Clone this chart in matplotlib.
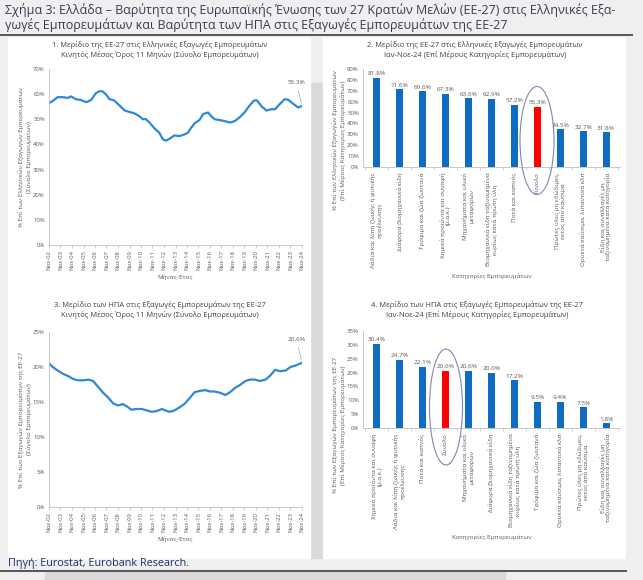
import pandas as pd
import matplotlib
matplotlib.use("Agg")
import matplotlib.pyplot as plt
from matplotlib.patches import Rectangle, Ellipse
from matplotlib.lines import Line2D

plt.rcParams['font.family'] = ['Open Sans', 'DejaVu Sans']

W, H = 643, 580

# =======================
# DATA
# =======================
eu_dates = ["2002-11", "2003-03", "2003-08", "2004-01", "2004-07", "2004-10", "2005-03",
            "2005-08", "2006-02", "2006-07", "2006-12", "2007-04", "2007-07", "2007-11",
            "2008-02", "2008-07", "2008-12", "2009-06", "2009-11", "2010-04", "2010-09",
            "2011-01", "2011-04", "2011-08", "2012-01", "2012-06", "2012-10", "2013-01",
            "2013-05", "2013-10", "2014-03", "2014-08", "2014-12", "2015-03", "2015-07",
            "2015-12", "2016-04", "2016-09", "2016-12", "2017-04", "2017-09", "2018-02",
            "2018-08", "2019-01", "2019-06", "2019-11", "2020-04", "2020-09", "2020-12",
            "2021-05", "2021-10", "2022-03", "2022-07", "2022-12", "2023-05", "2023-09",
            "2024-02", "2024-07", "2024-11"]
eu_share = [56.4, 57.3, 58.8, 58.8, 58.5, 59.1, 58.0,
            57.7, 56.8, 57.7, 60.4, 61.2, 61.1, 59.7,
            58.0, 57.5, 55.7, 53.5, 52.9, 52.4, 51.3,
            50.0, 50.1, 48.7, 46.4, 44.7, 42.0, 41.5,
            42.3, 43.6, 43.3, 43.9, 44.7, 46.4, 48.4,
            49.7, 52.1, 52.7, 51.3, 50.0, 49.7, 49.3,
            48.7, 49.3, 50.8, 52.7, 55.3, 57.5, 57.5,
            55.1, 53.5, 54.0, 54.0, 56.1, 58.0, 57.7,
            56.1, 54.7, 55.3]

us_dates = ["2002-11", "2003-03", "2003-08", "2004-02", "2004-07", "2004-12", "2005-05",
            "2005-11", "2006-04", "2006-09", "2007-02", "2007-07", "2008-01", "2008-06",
            "2008-11", "2009-04", "2009-08", "2010-01", "2010-06", "2010-12", "2011-05",
            "2011-10", "2012-03", "2012-09", "2012-12", "2013-05", "2013-10", "2014-04",
            "2014-09", "2015-02", "2015-07", "2016-01", "2016-06", "2016-11", "2017-04",
            "2017-10", "2018-03", "2018-08", "2019-01", "2019-06", "2019-12", "2020-05",
            "2020-10", "2021-03", "2021-09", "2022-02", "2022-07", "2022-12", "2023-06",
            "2023-11", "2024-04", "2024-11"]
us_share = [20.5, 20.0, 19.5, 19.0, 18.7, 18.3, 18.1,
            18.1, 18.2, 18.0, 17.2, 16.4, 15.6, 14.8,
            14.5, 14.7, 14.4, 13.9, 14.0, 14.0, 13.8,
            13.6, 13.7, 14.0, 13.8, 13.6, 13.8, 14.3,
            14.8, 15.6, 16.4, 16.6, 16.7, 16.5, 16.5,
            16.3, 16.0, 16.4, 17.0, 17.4, 18.0, 18.2,
            18.2, 18.0, 18.2, 18.8, 19.6, 19.4, 19.5,
            20.0, 20.2, 20.6]

eu_cats = ["Λάδια και λίπη ζωικής ή φυτικής\nπροέλευσης",
           "Διάφορα βιομηχανικά είδη",
           "Τρόφιμα και ζώα ζωντανά",
           "Χημικά προϊόντα και συναφή\n(μ.α.κ.)",
           "Μηχανήματα και υλικό\nμεταφορών",
           "Βιομηχανικά είδη ταξινομημένα\nκυρίως κατά πρώτη ύλη",
           "Ποτά και καπνός",
           "Σύνολο",
           "Πρώτες ύλες μη εδώδιμες,\nεκτός από καύσιμα",
           "Ορυκτά καύσιμα, λιπαντικά κλπ",
           "Είδη και συναλλαγές μη\nταξινομημένα κατά κατηγορία"]
eu_vals = [81.8, 71.6, 69.6, 67.3, 63.0, 62.9, 57.2, 55.3, 34.5, 32.7, 31.8]

us_cats = ["Χημικά προϊόντα και συναφή\n(μ.α.κ.)",
           "Λάδια και λίπη ζωικής ή φυτικής\nπροέλευσης",
           "Ποτά και καπνός",
           "Σύνολο",
           "Μηχανήματα και υλικό\nμεταφορών",
           "Διάφορα βιομηχανικά είδη",
           "Βιομηχανικά είδη ταξινομημένα\nκυρίως κατά πρώτη ύλη",
           "Τρόφιμα και ζώα ζωντανά",
           "Ορυκτά καύσιμα, λιπαντικά κλπ",
           "Πρώτες ύλες μη εδώδιμες,\nεκτός από καύσιμα",
           "Είδη και συναλλαγές μη\nταξινομημένα κατά κατηγορία"]
us_vals = [30.4, 24.7, 22.1, 20.6, 20.6, 20.0, 17.2, 9.5, 9.4, 7.5, 1.8]

LINE_C = "#2f88d6"
BAR_C = "#0f6cc2"
RED = "#ff0000"
TXT = "#595959"
AX_C = "#bfbfbf"


def box(x0, y0, x1, y1):
    # pixel box (top-left origin) -> figure fraction
    return [x0 / W, 1 - y1 / H, (x1 - x0) / W, (y1 - y0) / H]


def fx(x):
    return x / W


def fy(y):
    return 1 - y / H


fig = plt.figure(figsize=(W / 100, H / 100), dpi=100)
fig.patch.set_facecolor("#efefef")

# background blocks
fig.patches.append(Rectangle((fx(310), fy(558)), fx(13), (558 - 83) / H,
                             transform=fig.transFigure, color="#d9d9d9", zorder=-2))
fig.patches.append(Rectangle((fx(45), 0), fx(460), (H - 572) / H,
                             transform=fig.transFigure, color="#d9d9d9", zorder=-2))
for x0, x1 in [(8, 310), (323, 625)]:
    fig.patches.append(Rectangle((fx(x0), fy(558)), fx(x1 - x0), (558 - 38) / H,
                                 transform=fig.transFigure, color="white", zorder=-1))
fig.lines.append(Line2D([0, fx(632)], [fy(35), fy(35)], transform=fig.transFigure,
                        color="#555555", lw=1.4))
fig.lines.append(Line2D([0, fx(626)], [fy(571), fy(571)], transform=fig.transFigure,
                        color="#555555", lw=1.4))

fig.text(fx(5), fy(10), "Σχήμα 3: Ελλάδα – Βαρύτητα της Ευρωπαϊκής Ένωσης των 27 Κρατών "
         "Μελών (ΕΕ-27) στις Ελληνικές Εξα-", fontsize=9.0, color="#3b3b55", va="center")
fig.text(fx(5), fy(25), "γωγές Εμπορευμάτων και Βαρύτητα των ΗΠΑ στις Εξαγωγές "
         "Εμπορευμάτων της ΕΕ-27", fontsize=9.0, color="#3b3b55", va="center")
fig.text(fx(8), fy(563), "Πηγή: Eurostat, Eurobank Research.", fontsize=7.8,
         color="#1f2f6b", va="center")


def style_axes(ax):
    ax.patch.set_alpha(0)
    for s in ["top", "right"]:
        ax.spines[s].set_visible(False)
    for s in ["left", "bottom"]:
        ax.spines[s].set_color(AX_C)
        ax.spines[s].set_linewidth(0.6)
    ax.tick_params(axis="y", length=0, labelsize=4.3, colors=TXT, pad=3)
    ax.tick_params(axis="x", length=2, width=0.5, color=AX_C, labelsize=4.3,
                   labelcolor=TXT, pad=1.5)


def line_panel(rect, dates, vals, ymax, ystep, title, ylab, tcenter, tys):
    ax = fig.add_axes(box(*rect))
    d = pd.to_datetime(dates)
    ax.plot(d, vals, color=LINE_C, lw=1.6, solid_joinstyle="round")
    ticks = pd.date_range("2002-11-01", "2024-11-01", freq="12MS")
    ax.set_xticks(ticks)
    ax.set_xticklabels([f"Νοε-{t:%y}" for t in ticks], rotation=90)
    ax.set_xlim(d[0], d[-1])
    ax.set_ylim(0, ymax)
    ax.set_yticks(range(0, ymax + 1, ystep))
    ax.set_yticklabels([f"{v}%" for v in range(0, ymax + 1, ystep)])
    style_axes(ax)
    ax.set_xlabel("Μήνας-Έτος", fontsize=4.5, color=TXT, labelpad=3)
    ax.set_ylabel(ylab, fontsize=4.5, color=TXT, labelpad=1)
    ax.annotate(f"{vals[-1]:.1f}%", xy=(d[-1], vals[-1]), xytext=(-4, 16),
                textcoords="offset points", fontsize=4.6, color=TXT, ha="center",
                arrowprops=dict(arrowstyle="-", color="#a6a6a6", lw=0.5))
    fig.text(fx(tcenter), fy(tys[0]), title[0], fontsize=5.4, color="#404040",
             ha="center", va="center")
    fig.text(fx(tcenter), fy(tys[1]), title[1], fontsize=5.4, color="#404040",
             ha="center", va="center")
    return ax


def bar_panel(rect, cats, vals, ymax, ystep, title, ylab, tcenter, tys, ylab_y, ell):
    ax = fig.add_axes(box(*rect))
    x = range(len(cats))
    colors = [RED if c == "Σύνολο" else BAR_C for c in cats]
    ax.bar(x, vals, width=0.32, color=colors)
    for i, v in zip(x, vals):
        ax.text(i, v + ymax * 0.015, f"{v:.1f}%", ha="center", va="bottom",
                fontsize=4.6, color=TXT)
    ax.set_xlim(-0.6, len(cats) - 0.4)
    ax.set_ylim(0, ymax)
    ax.set_yticks(range(0, ymax + 1, ystep))
    ax.set_yticklabels([f"{v}%" for v in range(0, ymax + 1, ystep)])
    ax.set_xticks(list(x))
    ax.set_xticklabels(cats, rotation=90, linespacing=1.05)
    ax.set_xticks([i - 0.5 for i in range(len(cats) + 1)], minor=True)
    style_axes(ax)
    ax.tick_params(axis="x", which="major", length=0, labelsize=4.5, pad=4)
    ax.tick_params(axis="x", which="minor", length=2, width=0.5, color=AX_C)
    ax.set_xlabel("Κατηγορίες Εμπορευμάτων", fontsize=4.5, color=TXT, labelpad=4)
    fig.text(fx(339), fy(ylab_y), ylab, fontsize=4.5, color=TXT, rotation=90,
             ha="center", va="center", multialignment="center")
    fig.text(fx(tcenter), fy(tys[0]), title[0], fontsize=5.4, color="#404040",
             ha="center", va="center")
    fig.text(fx(tcenter), fy(tys[1]), title[1], fontsize=5.4, color="#404040",
             ha="center", va="center")
    cx, cy, ew, eh = ell
    fig.patches.append(Ellipse((fx(cx), fy(cy)), ew / W, eh / H, transform=fig.transFigure,
                               fill=False, edgecolor="#8085b5", lw=0.8, zorder=5))
    return ax


line_panel((49, 69, 302, 245), eu_dates, eu_share, 70, 10,
           ("1. Μερίδιο της ΕΕ-27 στις Ελληνικές Εξαγωγές Εμπορευμάτων",
            "Κινητός Μέσος Όρος 11 Μηνών (Σύνολο Εμπορευμάτων)"),
           "% Επί των Ελληνικών Εξαγωγών Εμπορευμάτων\n(Σύνολο Εμπορευμάτων)",
           160, (45, 55))

line_panel((49, 332, 302, 507), us_dates, us_share, 25, 5,
           ("3. Μερίδιο των ΗΠΑ στις Εξαγωγές Εμπορευμάτων της ΕΕ-27",
            "Κινητός Μέσος Όρος 11 Μηνών (Σύνολο Εμπορευμάτων)"),
           "% Επί των Εξαγωγών Εμπορευμάτων της ΕΕ-27\n(Σύνολο Εμπορευμάτων)",
           160, (305, 315))

bar_panel((363, 69, 620, 167), eu_cats, eu_vals, 90, 10,
          ("2. Μερίδιο της ΕΕ-27 στις Ελληνικές Εξαγωγές Εμπορευμάτων",
           "Ιαν-Νοε-24 (Επί Μέρους Κατηγορίες Εμπορευμάτων)"),
          "% Επί των Ελληνικών Εξαγωγών Εμπορευμάτων\n(Επί Μέρους Κατηγορίες Εμπορευμάτων)",
          475, (45, 55), 140, (537, 140.5, 34, 108))

bar_panel((363, 331, 620, 428), us_cats, us_vals, 35, 5,
          ("4. Μερίδιο των ΗΠΑ στις Εξαγωγές Εμπορευμάτων της ΕΕ-27",
           "Ιαν-Νοε-24 (Επί Μέρους Κατηγορίες Εμπορευμάτων)"),
          "% Επί των Εξαγωγών Εμπορευμάτων της ΕΕ-27\n(Επί Μέρους Κατηγορίες Εμπορευμάτων)",
          477, (305, 315), 425, (446, 407, 33, 116))

fig.savefig("out.png", dpi=100, facecolor=fig.get_facecolor())
